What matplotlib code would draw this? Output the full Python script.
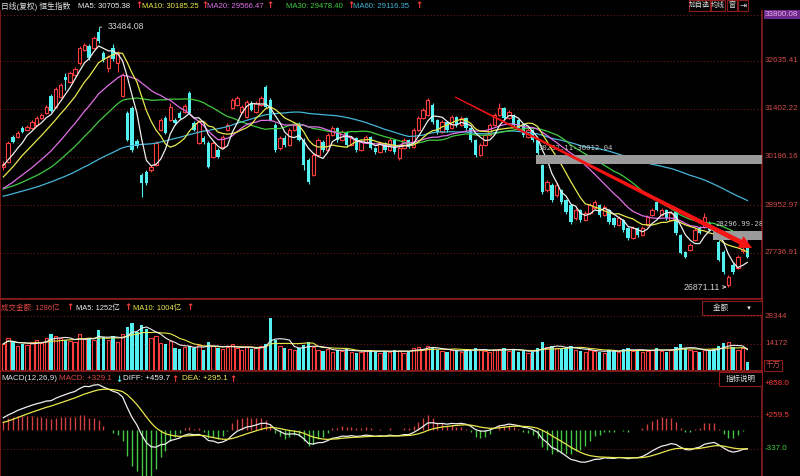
import numpy as np
import pandas as pd
import matplotlib
matplotlib.use('Agg')
import matplotlib.pyplot as plt
from matplotlib import font_manager
from matplotlib.patches import Polygon, Rectangle
from matplotlib.transforms import IdentityTransform, blended_transform_factory

# ---- data (HSI daily) ----
# closes before the first visible bar, estimated from where the MA lines start
prior_closes = [28650, 28720, 28590, 28810, 28900, 28760, 28950, 29050, 28880, 28700,
                28820, 29010, 29120, 29200, 29080, 28950, 29150, 29300, 29250, 29100,
                28980, 29050, 29180, 29290, 29100, 28900, 28850, 28960, 29050, 28990,
                29200, 29350, 29480, 29400, 29300, 29250, 29380, 29450, 29320, 29270,
                29150, 29050, 28950, 28880, 29000, 29120, 29200, 29100, 29180, 29270,
                29180, 29250, 29300, 29320, 29350, 29700, 29800, 29880, 30000, 30120]
opens = [29926, 30053, 30689, 30689, 30918, 30868, 30918, 30995, 31173, 31300,
         31733, 31453, 31707, 32216, 32089, 32267, 32573, 32904, 33005, 32954,
         33362, 32827, 32445, 32954, 32573, 31733, 31300, 31427, 30588, 29722,
         29799, 29850, 29977, 30868, 31173, 31122, 31122, 31300, 31326, 31809,
         31046, 30537, 30664, 30537, 30180, 30359, 30435, 30868, 31427, 31504,
         31326, 31198, 31555, 31326, 31504, 31962, 31631, 30995, 30410, 30664,
         30486, 30868, 30995, 30613, 30104, 29722, 30231, 30562, 30359, 30740,
         30918, 30613, 30817, 30486, 30664, 30359, 30562, 30689, 30410, 30308,
         30537, 30359, 30613, 30155, 30410, 30613, 30435, 30868, 31173, 31249,
         31504, 31122, 30817, 31071, 30918, 31198, 30995, 31173, 30918, 30613,
         30231, 30486, 30740, 30995, 31249, 31427, 31173, 31249, 31122, 30995,
         30689, 30868, 30613, 29977, 29341, 29468, 29213, 29341, 29086, 28959,
         28628, 28832, 28577, 28755, 28882, 28959, 28704, 28832, 28628, 28450,
         28577, 28374, 28120, 28374, 28196, 28450, 28704, 29035, 28704, 28832,
         28577, 28781, 28196, 27763, 27814, 28069, 28374, 28399, 28501, 28340,
         28020, 27763, 26923, 27432, 27355, 27789, 27865]
highs = [30080, 30588, 30740, 30842, 30968, 30995, 31122, 31224, 31300, 31504,
         31784, 31962, 32064, 32318, 32369, 32471, 33005, 33082, 33056, 33260,
         33484.08, 32878, 32776, 33056, 32878, 32318, 31351, 31478, 30640, 29773,
         29850, 29977, 30588, 31173, 31224, 31555, 31173, 31351, 31529, 31860,
         31097, 31122, 30715, 30588, 30588, 30410, 30740, 31046, 31682, 31733,
         31504, 31631, 31606, 31606, 31733, 32013, 31682, 31046, 30715, 30740,
         30918, 31046, 31071, 30664, 30155, 30282, 30664, 30613, 30791, 30970,
         30944, 30868, 30842, 30715, 30689, 30613, 30740, 30715, 30435, 30588,
         30562, 30664, 30640, 30461, 30664, 30640, 30918, 31224, 31427, 31682,
         31555, 31147, 31122, 31097, 31249, 31224, 31224, 31198, 30944, 30640,
         30537, 30791, 31046, 31300, 31555, 31453, 31376, 31275, 31147, 31020,
         30918, 30893, 30640, 30012.04, 29595, 29519, 29519, 29366, 29111, 28984,
         28882, 28857, 28806, 29010, 29086, 28984, 28959, 28857, 28653, 28679,
         28603, 28399, 28425, 28399, 28425, 28704, 28882, 29086, 28882, 28857,
         28806, 28806, 28221, 27788, 27992, 28374, 28425, 28755, 28552, 28380,
         28071.41, 27814, 27177, 27483, 27687, 27941, 27941]
lows = [29850, 30028, 30537, 30664, 30791, 30842, 30893, 30970, 31147, 31275,
        31326, 31427, 31682, 31886, 32064, 32242, 32522, 32878, 32649, 32929,
        33082, 32598, 32344, 32624, 32344, 31707, 30588, 30308, 30410, 29162,
        29468, 29799, 29952, 30842, 30766, 31097, 30995, 31147, 31300, 31275,
        30842, 30511, 30511, 29901, 30155, 30155, 30410, 30842, 31402, 31478,
        31300, 31173, 31351, 31300, 31478, 31427, 31097, 30308, 30359, 30435,
        30461, 30842, 30588, 29850, 29493, 29697, 30206, 30308, 30334, 30715,
        30562, 30588, 30435, 30461, 30308, 30334, 30537, 30384, 30257, 30282,
        30308, 30334, 30257, 30104, 30384, 30410, 30410, 30842, 31147, 31224,
        31020, 30766, 30791, 30817, 30893, 30944, 30970, 30868, 30562, 30180,
        30206, 30461, 30715, 30970, 31224, 31122, 31147, 30944, 30868, 30689,
        30664, 30562, 30232.11, 29239, 29290, 29035, 29162, 28984, 28730, 28476,
        28577, 28526, 28552, 28730, 28857, 28653, 28679, 28476, 28399, 28425,
        28272, 28069, 28094, 28145, 28170, 28425, 28679, 28806, 28679, 28577,
        28552, 28196, 27712, 27610, 27788, 28043, 28221, 28374, 28297, 28296.99,
        27530, 27203, 26871.11, 27203, 27330, 27737, 27610]
closes = [30003, 30537, 30562, 30791, 30817, 30944, 31071, 31173, 31249, 31453,
          31351, 31911, 32013, 32140, 32318, 32420, 32954, 33031, 32700, 33209,
          33132, 32649, 32725, 32675, 32827, 32267, 30613, 30359, 30461, 29519,
          29519, 29926, 30537, 31122, 30791, 31453, 31046, 31173, 31478, 31300,
          30868, 31071, 30562, 29926, 30537, 30180, 30689, 30995, 31631, 31682,
          31453, 31580, 31376, 31555, 31682, 31453, 31122, 30359, 30664, 30486,
          30868, 30995, 30613, 29977, 29544, 30231, 30613, 30359, 30740, 30918,
          30613, 30817, 30486, 30664, 30359, 30562, 30689, 30410, 30308, 30537,
          30359, 30613, 30308, 30410, 30613, 30435, 30868, 31173, 31376, 31631,
          31071, 30817, 31071, 30868, 31198, 30995, 31173, 30918, 30613, 30231,
          30486, 30740, 30995, 31249, 31427, 31173, 31326, 30995, 30918, 30740,
          30868, 30613, 30282, 29290, 29544, 29086, 29468, 29035, 28781, 28527,
          28832, 28577, 28755, 28959, 29035, 28704, 28908, 28527, 28450, 28628,
          28323, 28120, 28374, 28196, 28374, 28653, 28832, 28832, 28832, 28628,
          28755, 28247, 27737, 27636, 27941, 28323, 28247, 28653, 28323, 28305,
          27559, 27254, 27127, 27254, 27636, 27840, 27636]
# turnover, in 千万
volumes = [14000, 17000, 15000, 13000, 14000, 13500, 15000, 16000, 14500, 17000,
           19000, 18000, 17000, 16000, 15500, 15000, 19000, 16500, 17000, 16000,
           21000, 17500, 16000, 18000, 15000, 19000, 23000, 25000, 20000, 24000,
           22000, 17000, 18000, 14500, 14000, 15500, 12000, 11500, 12500, 13000,
           12000, 13500, 11000, 15000, 13000, 12000, 11500, 12500, 14000, 12000,
           11000, 12500, 11500, 12000, 13000, 14000, 27500, 16000, 13000, 12000,
           11500, 11000, 12000, 13500, 15000, 12500, 11000, 10500, 11500, 10000,
           11000, 10500, 11500, 10000, 9500, 10000, 10500, 11000, 10000, 9500,
           10500, 10000, 11000, 10500, 9500, 10000, 12000, 12500, 11500, 13000,
           12000, 11000, 10500, 10000, 11000, 10500, 10000, 11500, 10500, 12000,
           11000, 10500, 10000, 11000, 11500, 12000, 10500, 11000, 10000, 10500,
           9500, 10000, 12000, 15000, 12500, 13000, 12000, 11500, 12000, 13000,
           11000, 10500, 10000, 11000, 10500, 10000, 9500, 11000, 10500, 10000,
           11500, 12000, 10500, 11000, 10000, 10500, 11000, 12000, 10500, 10000,
           11000, 12500, 14000, 12000, 11000, 10500, 10000, 11000, 10500, 11500,
           13000, 14500, 15000, 12500, 11000, 12000, 4500]

price_ticks = [33800.08, 32635.41, 31402.22, 30186.16, 28952.97, 27736.91]
vol_ticks = [28344, 14172]
macd_ticks = [858.0, 259.5, -337.0]
gaps = [(112, 30232.11, 30012.04), (149, 28296.99, 28071.41)]

# ---- style ----
RED = '#ff3c3c'
CYAN = '#52f0f0'
BORDER = '#8c1c1c'
GRID = '#701818'
AXTXT = '#d04a4a'
WHITE = '#eeeeee'
YELLOW = '#e8e84c'
MAGENTA = '#e070e8'
GREEN = '#40cc40'
BLUE = '#45b5d8'
FS = 5.8      # small UI text size

names = {f.name for f in font_manager.fontManager.ttflist}
NUMF = 'Liberation Sans Narrow' if 'Liberation Sans Narrow' in names else 'Liberation Sans'
FAM = [NUMF, 'Noto Sans CJK SC', 'DejaVu Sans']
plt.rcParams['font.family'] = FAM

W, H = 800, 476
fig = plt.figure(figsize=(W / 100, H / 100), dpi=100, facecolor='black')

o = np.array(opens, float)
h = np.array(highs, float)
l = np.array(lows, float)
c = np.array(closes, float)
v = np.array(volumes, float)
x = np.arange(len(c))
up = c >= o
npre = len(prior_closes)
call = pd.Series(list(prior_closes) + list(c))   # full close history for indicators


def panel(top, bottom):
    ax = fig.add_axes([0.0, 1 - bottom / H, 762 / W, (bottom - top) / H])
    ax.set_facecolor('black')
    for s in ax.spines.values():
        s.set_color(BORDER)
        s.set_linewidth(1.2)
    ax.set_xticks([])
    ax.set_yticks([])
    ax.set_xlim(-0.69, 159.06)
    return ax


def rlabel(ax, val, txt, color=AXTXT):
    tr = blended_transform_factory(ax.transAxes, ax.transData)
    ax.text(1.004, val, txt, transform=tr, color=color, fontsize=FS,
            ha='left', va='center', clip_on=False)


def ftext(px, py, s, color, size=FS, **kw):
    fig.text(px / W, 1 - py / H, s, color=color, fontsize=size,
             ha='left', va='center', **kw)


def button(x0, y0, x1, y1, s, size=FS, color='#e0e0e0', **kw):
    fig.add_artist(Rectangle((x0 / W, 1 - y1 / H), (x1 - x0) / W, (y1 - y0) / H,
                             transform=fig.transFigure, facecolor='black',
                             edgecolor=BORDER, lw=0.8, zorder=8))
    fig.text((x0 + x1) / 2 / W, 1 - (y0 + y1) / 2 / H, s, color=color, fontsize=size,
             ha='center', va='center', zorder=9, **kw)


def up_arrow(px, py, color=RED, ch='↑'):
    ftext(px, py, ch, color, 6.3, family=['DejaVu Sans'], fontweight='bold')


# ---- main price panel ----
ax = panel(11, 299)
ax.spines['top'].set_visible(False)
ax.set_ylim(26566, 33896)
for t in price_ticks:
    ax.axhline(t, color=GRID, lw=0.8, ls=(0, (1, 2)), zorder=1)
    if t != price_ticks[0]:
        rlabel(ax, t, f'{t:.2f}')
tr = blended_transform_factory(ax.transAxes, ax.transData)
ax.text(1.004, price_ticks[0], f'{price_ticks[0]:.2f}', transform=tr, color='#f0a8f0',
        fontsize=FS, ha='left', va='center', clip_on=False,
        bbox=dict(facecolor='#6b2a8a', edgecolor='none', pad=0.8))

wick_col = np.where(up, RED, CYAN)
ax.vlines(x, l, h, colors=wick_col, lw=0.8, zorder=2)
body_bot = np.minimum(o, c)
body_h = np.maximum(np.abs(c - o), 12)
ax.bar(x[up], body_h[up], bottom=body_bot[up], width=0.7, facecolor='black',
       edgecolor=RED, lw=0.8, zorder=3)
ax.bar(x[~up], body_h[~up], bottom=body_bot[~up], width=0.7, color=CYAN,
       lw=0, zorder=3)

for n, col in [(60, BLUE), (30, GREEN), (20, MAGENTA), (10, YELLOW), (5, WHITE)]:
    ma = call.rolling(n, min_periods=1).mean().to_numpy()[npre:]
    ax.plot(x, ma, color=col, lw=0.9, zorder=4)

# unfilled gaps
for i0, hi, lo in gaps:
    ax.add_patch(Rectangle((i0 - 0.3, lo), 200, hi - lo, facecolor='#9a9a9a',
                           edgecolor='none', zorder=5))
    ax.text(i0 + 0.2, hi + 90, f'{hi:.2f}-{lo:.2f}',
            color='#c8c8c8', fontsize=5.2, family='DejaVu Sans Mono',
            ha='left', va='bottom', zorder=6, clip_on=True)

# high / low markers
ax.annotate('33484.08', xy=(20.2, 33484.08), xytext=(21.8, 33500), color='#d0d0d0',
            fontsize=6.3, va='center', ha='left',
            arrowprops=dict(arrowstyle='-', color='#d0d0d0', lw=0.7))
ax.annotate('26871.11', xy=(151.6, 26871.11), xytext=(150.2, 26871.11), color='#d0d0d0',
            fontsize=6.3, va='center', ha='right',
            arrowprops=dict(arrowstyle='->', color='#d0d0d0', lw=0.7,
                            mutation_scale=5))

# hand-drawn trend arrow
fig.canvas.draw()
p0 = ax.transData.transform((94.7, 31707))
p1 = ax.transData.transform((157.0, 27864))
d = (p1 - p0) / np.hypot(*(p1 - p0))
nrm = np.array([-d[1], d[0]])
hl, hw, w0, w1 = 13, 6.5, 0.6, 2.5
pb = p1 - d * hl
pts = [p0 + nrm * w0, pb + nrm * w1, pb + nrm * hw, p1,
       pb - nrm * hw, pb - nrm * w1, p0 - nrm * w0]
fig.add_artist(Polygon(pts, closed=True, transform=IdentityTransform(),
                       facecolor='#f41414', edgecolor='none', zorder=7))

# ---- volume panel ----
axv = panel(299, 371)
axv.set_ylim(0, 37275)
for t in vol_ticks:
    axv.axhline(t, color=GRID, lw=0.8, ls=(0, (1, 2)), zorder=1)
    rlabel(axv, t, f'{t}')
axv.bar(x[up], v[up], width=0.7, facecolor='black', edgecolor=RED, lw=0.8, zorder=2)
axv.bar(x[~up], v[~up], width=0.7, color=CYAN, lw=0, zorder=2)
vs = pd.Series(v)
axv.plot(x, vs.rolling(10, min_periods=1).mean(), color=YELLOW, lw=0.8, zorder=3)
axv.plot(x, vs.rolling(5, min_periods=1).mean(), color=WHITE, lw=0.8, zorder=3)

# ---- MACD panel ----
axm = panel(371, 476)
axm.spines['bottom'].set_visible(False)
axm.set_ylim(-839, 1081)
ema12 = call.ewm(span=12, adjust=False).mean()
ema26 = call.ewm(span=26, adjust=False).mean()
diff_all = ema12 - ema26
dea_all = diff_all.ewm(span=9, adjust=False).mean()
diff = diff_all.to_numpy()[npre:]
dea = dea_all.to_numpy()[npre:]
hist = 2 * (diff - dea)
for t in macd_ticks:
    axm.axhline(t, color=GRID, lw=0.8, ls=(0, (1, 2)), zorder=1)
    rlabel(axm, t, f'{t:+.1f}', RED if t > 0 else GREEN)
axm.vlines(x, 0, hist, colors=np.where(hist >= 0, '#d04040', '#44c844'), lw=1, zorder=2)
axm.plot(x, diff, color=WHITE, lw=0.9, zorder=3)
axm.plot(x, dea, color=YELLOW, lw=0.9, zorder=3)

# ---- header texts ----
ftext(1, 6, '日线(复权) 恒生指数', '#e0e0e0', 5.6)
for px, s, col in [(78, 'MA5: 30705.38', WHITE), (142, 'MA10: 30185.25', YELLOW),
                   (207, 'MA20: 29566.47', MAGENTA), (286, 'MA30: 29478.40', GREEN),
                   (353, 'MA60: 29116.35', BLUE)]:
    ftext(px, 6, s, col, 5.6)
for px in [135, 201, 266, 347, 415]:
    up_arrow(px, 6)

button(689, 0, 710, 11, '加自选', 5.0)
button(711, 0, 725, 11, '均线', 5.0)
button(727, 0, 737, 11, '窗', 5.0)
button(738, 0, 748, 11, '⇥', 6.0, family=['DejaVu Sans'])

ftext(1, 308, '成交金额: 1286亿', '#e04848', 5.4)
up_arrow(66, 308)
ftext(76, 308, 'MA5: 1252亿', WHITE, 5.4)
up_arrow(124, 308)
ftext(133, 308, 'MA10: 1004亿', YELLOW, 5.4)
up_arrow(186, 308)
button(702, 301, 762, 315, '金额         ▾', 5.4)
button(764, 360, 782, 371, '千万', 5.4, color=AXTXT)

ftext(1, 379, 'MACD(12,26,9)', '#e0e0e0')
ftext(59, 379, 'MACD: +329.1', '#e04848')
up_arrow(115, 379, CYAN, '↓')
ftext(123, 379, 'DIFF: +459.7', WHITE)
up_arrow(171, 379)
ftext(182, 379, 'DEA: +295.1', YELLOW)
up_arrow(229, 379)
button(719, 372, 762, 386, '指标说明', 5.4)

fig.savefig('out.png', dpi=100, facecolor='black')
